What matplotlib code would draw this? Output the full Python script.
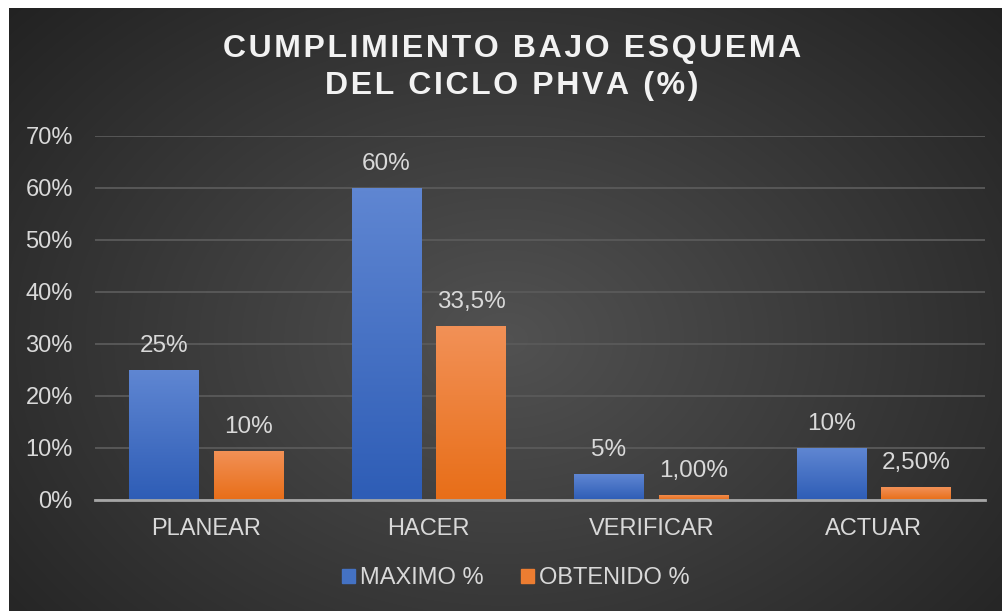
import numpy as np
import matplotlib
matplotlib.use("Agg")
import matplotlib.pyplot as plt
from matplotlib.patches import Rectangle

categories = ["PLANEAR", "HACER", "VERIFICAR", "ACTUAR"]
maximo = [25, 60, 5, 10]
obtenido = [9.5, 33.5, 1.0, 2.5]
maximo_labels = ["25%", "60%", "5%", "10%"]
obtenido_labels = ["10%", "33,5%", "1,00%", "2,50%"]
yticks = [0, 10, 20, 30, 40, 50, 60, 70]
ytick_labels = ["0%", "10%", "20%", "30%", "40%", "50%", "60%", "70%"]
series_names = ["MAXIMO %", "OBTENIDO %"]

W, H = 1002, 611
fig = plt.figure(figsize=(W / 100, H / 100), dpi=100)
fig.patch.set_facecolor("white")

# background with radial gradient
bg = fig.add_axes([9 / W, 0, (W - 9) / W, (H - 8) / H])
bg.set_axis_off()
yy, xx = np.mgrid[0:1:300j, 0:1:500j]
r = np.sqrt(((xx - 0.5) / 0.62) ** 2 + ((yy - 0.55) / 0.75) ** 2)
val = 0.32 - 0.17 * np.clip(r, 0, 1.2)
img = np.dstack([val, val, val])
bg.imshow(img, extent=[0, 1, 0, 1], aspect="auto", interpolation="bilinear")
bg.set_xlim(0, 1)
bg.set_ylim(0, 1)

font = "Liberation Sans"
txt = "#d9d9d9"

ax = fig.add_axes([95 / W, (H - 500) / H, (985 - 95) / W, (500 - 136) / H])
ax.patch.set_alpha(0)
x = np.arange(len(categories))
bw = 0.314
off = 0.19

def grad_bars(xs, vals, top, bottom):
    bars = ax.bar(xs, vals, width=bw, color=bottom, zorder=3)
    cmap = matplotlib.colors.LinearSegmentedColormap.from_list("g", [bottom, top])
    for b in bars:
        x0, y0 = b.get_x(), b.get_y()
        w, h = b.get_width(), b.get_height()
        g = np.linspace(0, 1, 100).reshape(-1, 1)
        im = ax.imshow(g, extent=[x0, x0 + w, y0, y0 + h], origin="lower",
                       cmap=cmap, aspect="auto", zorder=4, interpolation="bilinear")
        im.set_clip_path(b)
    return bars

grad_bars(x - off, maximo, "#5f86d2", "#2e5db6")
grad_bars(x + off, obtenido, "#f29157", "#e86e18")

for xi, v, l in zip(x - off, maximo, maximo_labels):
    ax.text(xi, v + 4.6, l, ha="center", va="center", color=txt, fontsize=17.5, family=font, zorder=5)
for xi, v, l in zip(x + off, obtenido, obtenido_labels):
    ax.text(xi, v + 4.6, l, ha="center", va="center", color=txt, fontsize=17.5, family=font, zorder=5)

ax.set_xlim(-0.5, 3.5)
ax.set_ylim(0, 70)
ax.set_yticks(yticks)
ax.set_yticklabels(ytick_labels)
ax.set_xticks(x)
ax.set_xticklabels(categories)
ax.tick_params(axis="both", length=0, colors=txt, labelsize=17)
ax.tick_params(axis="y", pad=16)
ax.tick_params(axis="x", pad=13)
for lab in ax.get_xticklabels() + ax.get_yticklabels():
    lab.set_family(font)
ax.grid(axis="y", color="#5a5a5a", linewidth=1.3, zorder=0)
ax.set_axisbelow(True)
for s in ["top", "right", "left"]:
    ax.spines[s].set_visible(False)
ax.spines["bottom"].set_color("#a6a6a6")
ax.spines["bottom"].set_linewidth(2)
ax.spines["bottom"].set_zorder(6)

# title (letter-spaced with hair spaces)
def spaced(s):
    return "\u200a \u200a".join("\u200a".join(w) for w in s.split(" "))

fig.text(512 / W, 1 - 49 / H, spaced("CUMPLIMIENTO BAJO ESQUEMA"),
         ha="center", va="center", fontsize=23, fontweight="bold", color="#f2f2f2",
         family=[font, "DejaVu Sans"])
fig.text(512 / W, 1 - 86 / H, spaced("DEL CICLO PHVA (%)"),
         ha="center", va="center", fontsize=23, fontweight="bold", color="#f2f2f2",
         family=[font, "DejaVu Sans"])

# legend
handles = [Rectangle((0, 0), 1, 1, color="#4472c4"), Rectangle((0, 0), 1, 1, color="#ed7d31")]
leg = fig.legend(handles, series_names, loc="center", bbox_to_anchor=(516 / W, 1 - 578 / H),
                 ncol=2, frameon=False, handlelength=0.55, handleheight=0.55, handletextpad=0.2,
                 columnspacing=1.6, prop={"family": font, "size": 17})
for t in leg.get_texts():
    t.set_color(txt)

fig.savefig("out.png", dpi=100)
